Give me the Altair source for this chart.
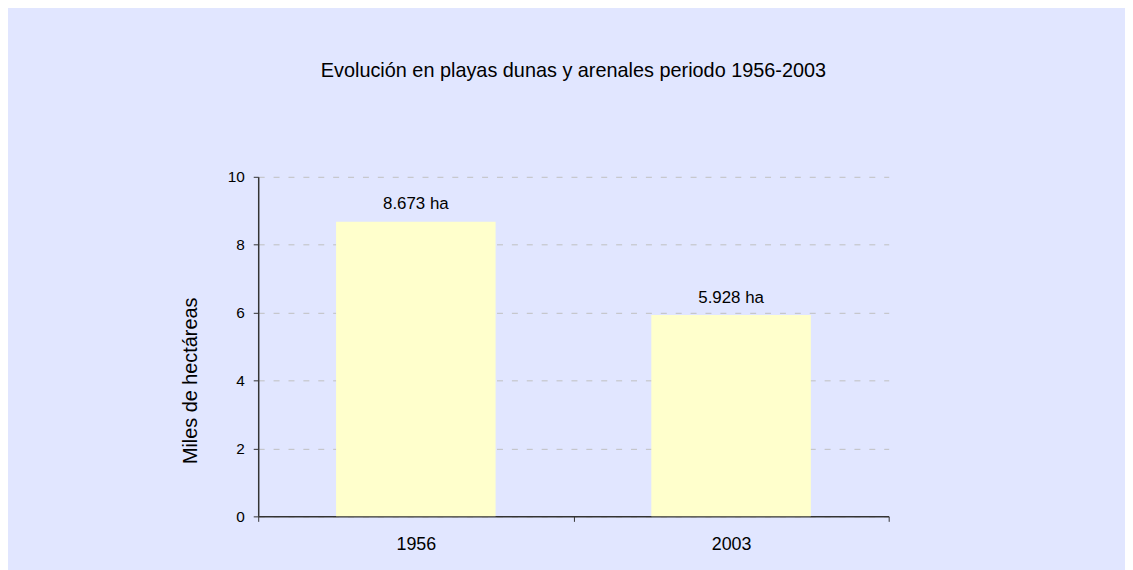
import altair as alt
import pandas as pd

years = ["1956", "2003"]
values = [8.673, 5.928]
labels = ["8.673 ha", "5.928 ha"]

df = pd.DataFrame({"year": years, "value": values, "label": labels})

FONT = "Liberation Sans"

x_enc = alt.X(
    "year:N",
    title=None,
    sort=years,
    scale=alt.Scale(paddingInner=0, paddingOuter=0),
    axis=alt.Axis(
        labelAngle=0,
        labelFontSize=18,
        labelColor="#000000",
        labelFont=FONT,
        labelPadding=14,
        tickBand="extent",
        tickSize=5,
        tickColor="#333333",
        domainColor="#333333",
        domainWidth=1.5,
        grid=False,
    ),
)

y_enc = alt.Y(
    "value:Q",
    scale=alt.Scale(domain=[0, 10], nice=False),
    axis=alt.Axis(
        title="Miles de hectáreas",
        values=[0, 2, 4, 6, 8, 10],
        labelFontSize=15.5,
        labelColor="#000000",
        labelFont=FONT,
        labelPadding=9,
        tickSize=5,
        tickColor="#333333",
        domainColor="#333333",
        domainWidth=1.5,
        grid=True,
        gridColor="#BFBFBF",
        gridDash=[6, 9],
        gridWidth=1,
        titleFont=FONT,
        titleFontSize=20,
        titleFontWeight="normal",
        titleColor="#000000",
        titleAngle=270,
        titleAlign="center",
        titleBaseline="middle",
        titleX=-68,
        titleY=205,
    ),
)

bars = alt.Chart(df).mark_bar(
    color="#FFFFCC", width=alt.RelativeBandSize(0.506)
).encode(x=x_enc, y=y_enc)

text = alt.Chart(df).mark_text(
    baseline="alphabetic", dy=-12.5, fontSize=17, font=FONT, color="#000000"
).encode(x=alt.X("year:N", sort=years), y="value:Q", text="label:N")

chart = (
    alt.layer(bars, text)
    .properties(
        width=635,
        height=342,
        autosize="none",
        padding={"left": 252, "top": 168, "right": 238, "bottom": 52},
        background="#E1E6FF",
        title=alt.TitleParams(
            "Evolución en playas dunas y arenales periodo 1956-2003",
            font=FONT,
            fontSize=20,
            fontWeight="normal",
            color="#000000",
            anchor="middle",
            frame="group",
            offset=90,
        ),
    )
    .configure_view(stroke=None)
)

chart.save("out.html", embed_options={"renderer": "svg", "actions": False})
